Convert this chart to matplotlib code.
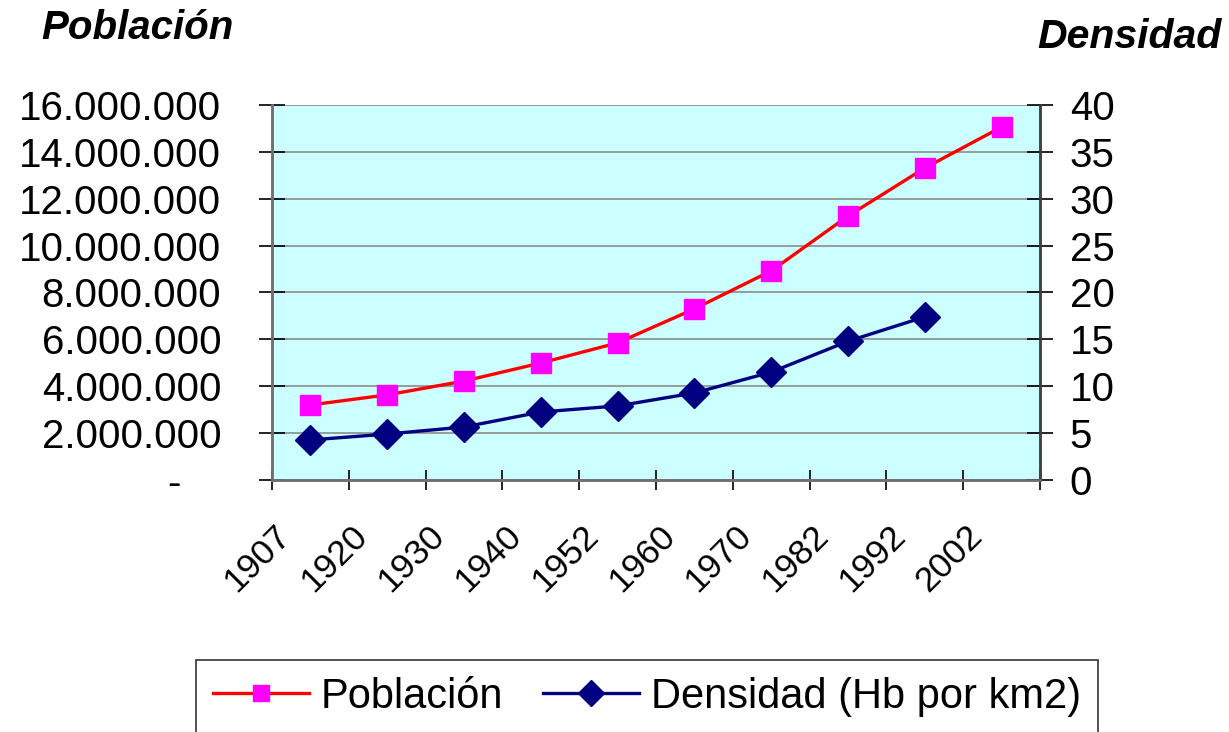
import matplotlib.pyplot as plt
import matplotlib.transforms as mtransforms
from matplotlib.ticker import FuncFormatter

plt.rcParams['font.family'] = ['Liberation Sans', 'DejaVu Sans']

# datos del grafico
anios = ['1907', '1920', '1930', '1940', '1952', '1960', '1970', '1982', '1992', '2002']
poblacion = [3200000, 3630000, 4220000, 4990000, 5850000, 7300000, 8920000, 11260000, 13310000, 15060000]
densidad = [4.27, 4.9, 5.65, 7.25, 7.9, 9.28, 11.5, 14.8, 17.4, None]

X = list(range(len(anios)))

fig = plt.figure(figsize=(12.29, 7.32), dpi=100, facecolor='white')
ax1 = fig.add_axes([0.2213, 0.3443, 0.6249, 0.5123])
ax1.set_facecolor('#CCFFFF')
ax2 = ax1.twinx()

l1, = ax1.plot(X, poblacion, color='#FF0000', lw=2.4, marker='s', markersize=14,
               markerfacecolor='#FF00FF', markeredgecolor='#FF00FF', label='Población', zorder=3)
dx = [x for x, d in zip(X, densidad) if d is not None]
dy = [d for d in densidad if d is not None]
l2, = ax2.plot(dx, dy, color='#000080', lw=2.4, marker='D', markersize=15,
               markerfacecolor='#000080', markeredgecolor='#000080', label='Densidad (Hb por km2)', zorder=3)

ax1.set_xlim(-0.5, len(anios) - 0.5)
ax1.set_ylim(0, 16000000)
ax2.set_ylim(0, 40)

def miles(v, pos):
    if v == 0:
        return '-'
    return '{:,.0f}'.format(v).replace(',', '.')

ax1.set_yticks(range(0, 16000001, 2000000))
ax1.yaxis.set_major_formatter(FuncFormatter(miles))
ax2.set_yticks(range(0, 41, 5))

ax1.grid(axis='y', color='#8C8C8C', lw=1.2)
ax1.set_axisbelow(True)

# ticks del eje x entre categorias, etiquetas aparte
ax1.set_xticks([x - 0.5 for x in range(len(anios) + 1)])
ax1.set_xticklabels([])
ax1.set_xticks([x - 0.17 for x in X], minor=True)
ax1.set_xticklabels(anios, minor=True, rotation=45, ha='right', va='top', fontsize=25.5)
ax1.tick_params(axis='x', which='minor', length=0, pad=28)
ax1.tick_params(axis='x', which='major', direction='inout', length=15, width=1.2, color='black')

ax1.tick_params(axis='y', direction='inout', length=19, width=1.2, labelsize=29, pad=27)
ax2.tick_params(axis='y', direction='inout', length=19, width=1.2, labelsize=29, pad=12)

# el guion del cero va mas a la izquierda
for lab in ax1.get_yticklabels():
    if lab.get_text() == '-':
        lab.set_transform(lab.get_transform() + mtransforms.ScaledTranslation(-0.41, 0, fig.dpi_scale_trans))

for a in (ax1, ax2):
    a.spines['top'].set_visible(False)
    a.spines['left'].set_color('#707070')
    a.spines['bottom'].set_color('#707070')
    a.spines['right'].set_color('#404040')
    for s in a.spines.values():
        s.set_linewidth(1.8)

fig.text(0.034, 0.962, 'Población', fontsize=29, fontweight='bold', fontstyle='italic',
         ha='left', va='center')
fig.text(0.994, 0.95, 'Densidad', fontsize=29.5, fontweight='bold', fontstyle='italic',
         ha='right', va='center')

leg = fig.legend(handles=[l1, l2], loc='upper left', bbox_to_anchor=(196 / 1229, 1 - 660 / 732),
                 ncol=2, fontsize=30, frameon=True, fancybox=False, borderaxespad=0,
                 borderpad=0.4, handlelength=2.3, handletextpad=0.3, columnspacing=0.95,
                 markerscale=0.85)
leg.get_frame().set_edgecolor('black')
leg.get_frame().set_linewidth(1.2)

plt.savefig('out.png', dpi=100)
